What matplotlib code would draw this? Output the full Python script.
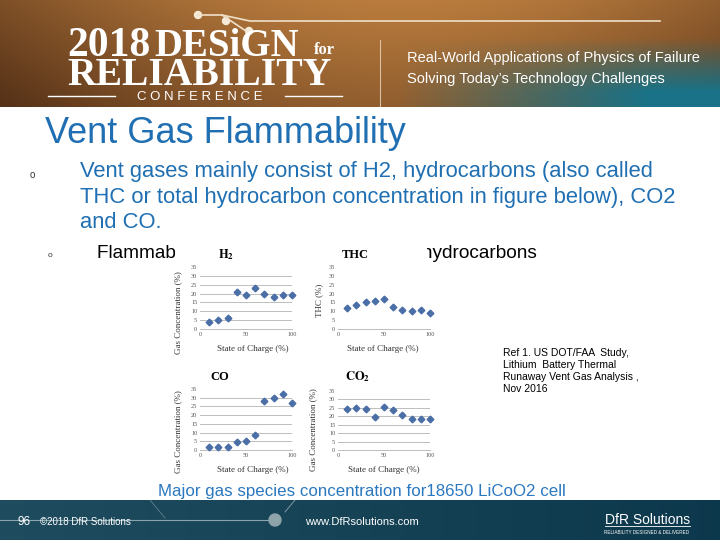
import numpy as np
import matplotlib
matplotlib.use('Agg')
from matplotlib import pyplot as plt
from matplotlib.patches import Rectangle, Circle

# state of charge (%) and gas concentrations
soc = [10, 20, 30, 40, 50, 60, 70, 80, 90, 100]
h2 = [4.2, 4.8, 6.4, 20.8, 19.2, 23.2, 19.9, 18.2, 19.3, 19.3]
thc = [11.6, 13.3, 15.1, 15.9, 17.2, 12.5, 10.7, 10.1, 10.7, 9.2]
co = [1.6, 1.9, 1.9, 4.8, 5.2, 8.4, 28.3, 29.6, 31.9, 27.1]
co2 = [24.2, 25.0, 24.3, 19.4, 25.3, 23.7, 21.0, 18.6, 18.6, 18.6]
y_ticks = [0, 5, 10, 15, 20, 25, 30, 35]
x_ticks = [0, 50, 100]

W, H = 720, 540
fig = plt.figure(figsize=(7.2, 5.4), dpi=100)
fig.patch.set_facecolor('white')

def fx(x):
    return x / W

def fy(y):
    return 1 - y / H

def ftext(x, y, s, **kw):
    kw.setdefault('zorder', 6)
    return fig.text(fx(x), fy(y), s, **kw)

# ---- header banner ----
hh = 107
yy, xx = np.mgrid[0:hh, 0:W]
xn = xx / W
yn = yy / hh
brown_dark = np.array([0.33, 0.19, 0.09])
brown_light = np.array([0.80, 0.54, 0.27])
teal = np.array([0.10, 0.45, 0.53])
t = np.clip(0.35 + 0.5 * np.sin(np.pi * xn * 0.9) - 0.35 * yn, 0, 1)[..., None]
img = brown_dark * (1 - t) + brown_light * t
w_teal = (np.clip((xn - 0.55) / 0.35, 0, 1) * np.clip((yn - 0.35) / 0.5, 0, 1))[..., None]
img = img * (1 - w_teal) + teal * w_teal
hax = fig.add_axes([0, fy(hh), 1, hh / H])
hax.imshow(img, aspect='auto', extent=[0, W, hh, 0])
hax.set_xlim(0, W)
hax.set_ylim(hh, 0)
hax.axis('off')
hax.plot([198, 222, 250, 660], [15, 15, 21, 21], color='#f0e0c8', lw=1.2)
hax.plot([222, 246], [15, 31], color='#f0e0c8', lw=1.2)
for cx, cy in [(198, 15), (226, 21), (249, 31)]:
    hax.add_patch(Circle((cx, cy), 3.5, color='#f5ead8'))
hax.plot([380, 380], [40, hh], color='#e8d8c0', lw=0.8, alpha=0.8)
hax.plot([48, 115], [96, 96], color='white', lw=1)
hax.plot([285, 342], [96, 96], color='white', lw=1)

ftext(67, 56, '2018', fontsize=30, fontweight='bold', family='Liberation Serif', color='white', va='baseline')
ftext(154, 56, 'DESiGN', fontsize=28, fontweight='bold', family='Liberation Serif', color='white', va='baseline')
ftext(314, 54, 'for', fontsize=12, fontweight='bold', family='Liberation Serif', color='white', va='baseline')
ftext(67, 85, 'RELIABILITY', fontsize=28.5, fontweight='bold', family='Liberation Serif', color='white', va='baseline')
ftext(200, 97, 'C O N F E R E N C E', fontsize=9.5, family='Liberation Sans', color='white', va='center', ha='center')
ftext(407, 62, 'Real-World Applications of Physics of Failure', fontsize=10.5,
      family='Liberation Sans', color='white', va='baseline')
ftext(407, 83, "Solving Today\u2019s Technology Challenges", fontsize=10.5,
      family='Liberation Sans', color='white', va='baseline')

# ---- footer ----
fh = 40
yy2, xx2 = np.mgrid[0:fh, 0:W]
foot = np.array([0.12, 0.30, 0.37]) * (1 - xx2[..., None] / W) + np.array([0.05, 0.22, 0.30]) * (xx2[..., None] / W)
fax = fig.add_axes([0, 0, 1, fh / H])
fax.imshow(foot, aspect='auto', extent=[0, W, 540, 500])
fax.set_xlim(0, W)
fax.set_ylim(540, 500)
fax.axis('off')
fax.plot([0, 272], [520, 520], color='#8aa4ad', lw=0.8)
fax.plot([150, 165], [500, 518], color='#5f8090', lw=0.6)
fax.plot([285, 295], [512, 500], color='#8aa4ad', lw=0.6)
fax.add_patch(Circle((275, 520), 6, color='#8fa3aa'))
ftext(17, 525, '96', fontsize=8.5, color='white', va='baseline', family='Liberation Sans')
ftext(40, 525, '\u00a92018 DfR Solutions', fontsize=7, color='white', va='baseline', family='Liberation Sans')
ftext(305, 525, 'www.DfRsolutions.com', fontsize=8, color='white', va='baseline', family='Liberation Sans')
ftext(605, 524, 'DfR Solutions', fontsize=10, color='white', va='baseline', family='Liberation Sans')
fax.plot([605, 690], [526, 526], color='white', lw=0.6)
ftext(604, 534, 'RELIABILITY DESIGNED & DELIVERED', fontsize=3.3, color='white', va='baseline',
      family='Liberation Sans')

# ---- slide text ----
blue = '#1f6fb2'
ftext(45, 143, 'Vent Gas Flammability', fontsize=26, color=blue, va='baseline', family='Liberation Sans')
ftext(30, 178, 'o', fontsize=7, color='#333333', va='baseline', family='Liberation Sans')
body = ['Vent gases mainly consist of H2, hydrocarbons (also called',
        'THC or total hydrocarbon concentration in figure below), CO2',
        'and CO.']
for i, line in enumerate(body):
    ftext(80, 177 + 25.5 * i, line, fontsize=15.8, color=blue, va='baseline', family='Liberation Sans')
ftext(48, 257, 'o', fontsize=6, color='#333333', va='baseline', family='Liberation Sans')
ftext(97, 258, 'Flammable gases include H2, CO and hydrocarbons', fontsize=13.7, color='black',
      va='baseline', family='Liberation Sans', zorder=3)

# white picture area that hides part of the sub-bullet
fig.patches.append(Rectangle((fx(175), fy(482)), (427 - 175) / W, (482 - 243) / H,
                             transform=fig.transFigure, facecolor='white', edgecolor='none', zorder=4))

ref = ['Ref 1. US DOT/FAA  Study,', 'Lithium  Battery Thermal', 'Runaway Vent Gas Analysis ,', 'Nov 2016']
for i, line in enumerate(ref):
    ftext(503, 356 + 12 * i, line, fontsize=7.5, color='black', va='baseline', family='Liberation Sans')

ftext(362, 496, 'Major gas species concentration for18650 LiCoO2 cell', fontsize=12.2, color='#2a78c0',
      va='baseline', ha='center', family='Liberation Sans')

# ---- the four small charts ----
plt.rcParams['mathtext.fontset'] = 'stix'
serif = 'Liberation Serif'

def add_panel(x0, x1, ytop, ybot, vals, grid):
    ax = fig.add_axes([fx(x0), fy(ybot), (x1 - x0) / W, (ybot - ytop) / H])
    ax.set_zorder(5)
    ax.patch.set_alpha(0)
    if grid:
        for g in y_ticks[1:-1]:
            ax.axhline(g, color='#bdbdbd', lw=0.7, zorder=1)
    ax.plot(soc, vals, 'D', ms=3.4, color='#4a6ea6', mec='#4a6ea6', zorder=3, clip_on=False)
    ax.set_xlim(0, 100)
    ax.set_ylim(0, 35)
    ax.set_xticks(x_ticks)
    ax.set_yticks(y_ticks)
    for s in ['top', 'right', 'left']:
        ax.spines[s].set_visible(False)
    ax.spines['bottom'].set_color('#bdbdbd')
    ax.spines['bottom'].set_linewidth(0.7)
    ax.tick_params(length=0, labelsize=4.5, labelcolor='#555555', pad=2)
    for lab in ax.get_xticklabels() + ax.get_yticklabels():
        lab.set_family(serif)
    return ax

add_panel(200, 292, 267, 329, h2, True)
add_panel(338, 430, 267, 329, thc, False)
add_panel(200, 292, 389, 450, co, True)
add_panel(338, 430, 391, 450, co2, True)

tkw = dict(fontsize=9, color='black', ha='center', va='center', zorder=7)
ftext(226, 255, r'$\mathbf{H_2}$', **tkw)
ftext(355, 255, 'THC', family=serif, fontweight='bold', **tkw)
ftext(220, 377, 'CO', family=serif, fontweight='bold', **tkw)
ftext(358, 377, r'$\mathbf{CO_2}$', **tkw)

lkw = dict(fontsize=6.5, color='#333333', ha='center', va='center', family=serif, zorder=7)
ftext(253, 349, 'State of Charge (%)', **lkw)
ftext(383, 349, 'State of Charge (%)', **lkw)
ftext(253, 470, 'State of Charge (%)', **lkw)
ftext(384, 470, 'State of Charge (%)', **lkw)
ftext(178, 313, 'Gas Concentration (%)', rotation=90, **lkw)
ftext(319, 300, 'THC (%)', rotation=90, **lkw)
ftext(178, 432, 'Gas Concentration (%)', rotation=90, **lkw)
ftext(313, 430, 'Gas Concentration (%)', rotation=90, **lkw)

fig.savefig('out.png', dpi=100)
